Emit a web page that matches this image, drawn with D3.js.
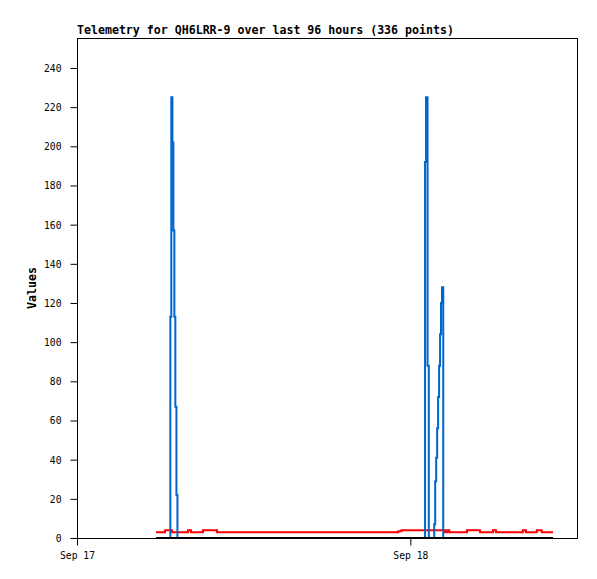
<!DOCTYPE html>
<html>
<head>
<meta charset="utf-8">
<script src="https://cdn.jsdelivr.net/npm/d3@7"></script>
<style>
  html, body { margin: 0; padding: 0; background: #fff; }
  svg { display: block; }
  text { font-family: "DejaVu Sans Mono", "Liberation Mono", monospace; }
</style>
</head>
<body>
<div id="chart"></div>
<script>
// ---- data (hours after Sep 17 00:00 UTC) ----
const titleText = "Telemetry for QH6LRR-9 over last 96 hours (336 points)";
const yLabel = "Values";
const xTickLabels = ["2023-09-17", "2023-09-18"];
const yTicks = [0, 20, 40, 60, 80, 100, 120, 140, 160, 180, 200, 220, 240];

const blueHours  = [5.69, 6.72, 6.79, 6.87, 6.94, 7.01, 7.08, 7.16, 7.23,
                    25.06, 25.13, 25.24, 25.33,
                    25.72, 25.79, 25.86, 25.93, 26.00, 26.07, 26.14, 26.21, 26.28, 26.37,
                    34.27];
const blueValues = [0, 113, 225, 202, 157, 113, 67, 22, 0,
                    192, 225, 88, 0,
                    7, 29, 41, 56, 72, 88, 104, 120, 128, 0,
                    0];

const redHours  = [5.69, 6.34, 6.84, 7.99, 8.21, 9.07, 10.08,
                   23.14, 23.36, 26.50, 26.65, 26.80, 28.08, 29.02, 29.95, 30.17,
                   32.10, 32.32, 33.10, 33.46, 34.27];
const redValues = [3, 4, 3, 4, 3, 4, 3,
                   3.5, 4, 3, 4, 3, 4, 3, 4, 3,
                   4, 3, 4, 3, 3];

const blackHours  = [5.69, 34.27];
const blackValues = [0, 0];

// ---- layout ----
const W = 597, H = 579;
const L = 77, T = 38, R = 577, B = 538;

const parse = d3.utcParse("%Y-%m-%d");
const t0 = parse(xTickLabels[0]);
const toDate = h => new Date(t0.getTime() + h * 3600e3);

const x = d3.scaleUtc()
  .domain([t0, toDate(36.0)])
  .range([L, R]);
const y = d3.scaleLinear()
  .domain([0, 255.3])
  .range([B, T]);

const svg = d3.select("#chart").append("svg")
  .attr("width", W).attr("height", H);

svg.append("rect").attr("width", W).attr("height", H).attr("fill", "#fff");

// frame
svg.append("rect")
  .attr("x", L + 0.5).attr("y", T + 0.5)
  .attr("width", R - L).attr("height", B - T)
  .attr("fill", "none").attr("stroke", "#000").attr("stroke-width", 1);

const mk = (hours, vals) => hours.map((h, i) => ({ t: toDate(h), v: vals[i] }));
const line = d3.line().x(d => x(d.t)).y(d => y(d.v)).curve(d3.curveStepAfter);

svg.append("path").datum(mk(redHours, redValues))
  .attr("d", line).attr("fill", "none").attr("stroke", "#ff0000").attr("stroke-width", 2);
svg.append("path").datum(mk(blueHours, blueValues))
  .attr("d", line).attr("fill", "none").attr("stroke", "#0066cc").attr("stroke-width", 2);
svg.append("path").datum(mk(blackHours, blackValues))
  .attr("d", line).attr("fill", "none").attr("stroke", "#000").attr("stroke-width", 2);

// y axis
const yAxis = svg.append("g")
  .attr("transform", `translate(${L + 0.5},0)`)
  .call(d3.axisLeft(y).tickValues(yTicks).tickSize(7).tickPadding(9).tickSizeOuter(0));
yAxis.select(".domain").remove();
yAxis.selectAll("text")
  .attr("font-family", "DejaVu Sans Mono, monospace")
  .attr("font-size", 9.7)
  .attr("fill", "#000")
  .attr("dy", "0.35em");
yAxis.selectAll("line").attr("stroke", "#000");

// x axis
const xAxis = svg.append("g")
  .attr("transform", `translate(0,${B + 0.5})`)
  .call(d3.axisBottom(x).tickValues(xTickLabels.map(parse))
    .tickFormat(d3.utcFormat("%b %d")).tickSize(7).tickPadding(7).tickSizeOuter(0));
xAxis.select(".domain").remove();
xAxis.selectAll("text")
  .attr("font-family", "DejaVu Sans Mono, monospace")
  .attr("font-size", 9.7)
  .attr("fill", "#000");
xAxis.selectAll("line").attr("stroke", "#000");

// title
svg.append("text")
  .attr("x", L).attr("y", 34)
  .attr("font-size", 11.6).attr("font-weight", "bold")
  .attr("fill", "#000")
  .text(titleText);

// y label
svg.append("text")
  .attr("transform", `translate(36,${(T + B) / 2}) rotate(-90)`)
  .attr("text-anchor", "middle")
  .attr("font-size", 11.6).attr("font-weight", "bold")
  .attr("fill", "#000")
  .text(yLabel);
</script>
</body>
</html>
